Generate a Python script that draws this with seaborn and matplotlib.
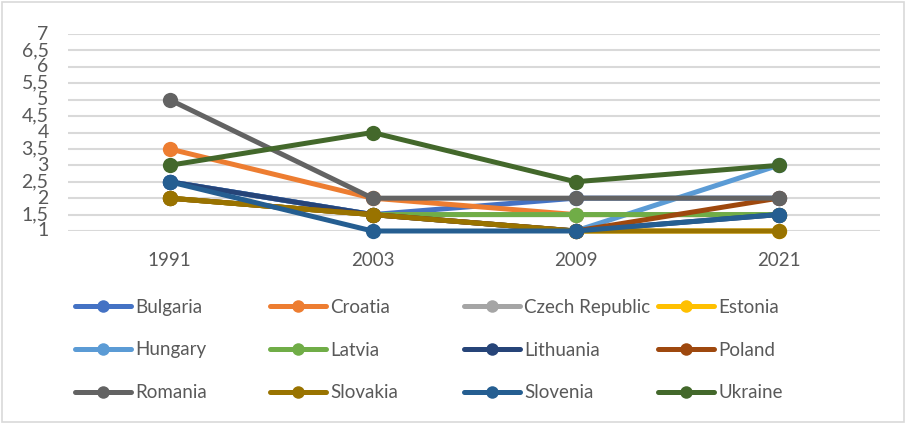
import matplotlib
matplotlib.use("Agg")
import matplotlib.pyplot as plt
import seaborn as sns
import pandas as pd
from matplotlib.lines import Line2D
from matplotlib.patches import Rectangle

years = ["1991", "2003", "2009", "2021"]
countries = ["Bulgaria", "Croatia", "Czech Republic", "Estonia", "Hungary", "Latvia",
             "Lithuania", "Poland", "Romania", "Slovakia", "Slovenia", "Ukraine"]
bulgaria = [2.5, 1.5, 2, 2]
croatia = [3.5, 2, 1.5, 1.5]
czech = [2, 1.5, 1.5, 1.5]
estonia = [2, 1.5, 1, 1]
hungary = [2.5, 1.5, 1, 3]
latvia = [2, 1.5, 1.5, 1.5]
lithuania = [2.5, 1.5, 1, 1.5]
poland = [2, 1.5, 1, 2]
romania = [5, 2, 2, 2]
slovakia = [2, 1.5, 1, 1]
slovenia = [2.5, 1, 1, 1.5]
ukraine = [3, 4, 2.5, 3]
series = [bulgaria, croatia, czech, estonia, hungary, latvia, lithuania, poland,
          romania, slovakia, slovenia, ukraine]
colors = ["#4472C4", "#ED7D31", "#A5A5A5", "#FFC000", "#5B9BD5", "#70AD47",
          "#264478", "#9E480E", "#636363", "#997300", "#255E91", "#43682B"]
yticks = [1, 1.5, 2, 2.5, 3, 3.5, 4, 4.5, 5, 5.5, 6, 6.5, 7]
ytick_labels = ["1", "1,5", "2", "2,5", "3", "3,5", "4", "4,5", "5", "5,5", "6", "6,5", "7"]

rows = []
for c, vals in zip(countries, series):
    for y, v in zip(years, vals):
        rows.append({"year": y, "country": c, "value": v})
df = pd.DataFrame(rows)

sns.set_theme(style="white")
plt.rcParams["font.family"] = ["Lato", "DejaVu Sans"]
text_color = "#595959"

fig = plt.figure(figsize=(9.06, 4.24), dpi=100)
ax = fig.add_axes([68 / 906, 1 - 231 / 424, (880 - 68) / 906, (231 - 34) / 424])

palette = dict(zip(countries, colors))
sns.lineplot(data=df, x="year", y="value", hue="country", hue_order=countries,
             palette=palette, marker="o", markersize=11, markeredgewidth=0,
             linewidth=3.6, legend=False, ax=ax, sort=False, clip_on=False, zorder=3)
for ln in ax.lines:
    ln.set_clip_on(False)

ax.set_xlim(-0.5, 3.5)
ax.set_ylim(1, 7)
ax.set_yticks(yticks)
ax.set_yticklabels(ytick_labels)
ax.set_xlabel("")
ax.set_ylabel("")
ax.yaxis.grid(True, color="#d9d9d9", linewidth=1.5)
ax.xaxis.grid(False)
ax.set_axisbelow(True)
for s in ax.spines.values():
    s.set_visible(False)
ax.tick_params(axis="y", length=0, pad=14, labelsize=14, labelcolor=text_color)
ax.tick_params(axis="x", length=0, pad=15, labelsize=13.5, labelcolor=text_color)
for lbl in ax.get_yticklabels():
    lbl.set_verticalalignment("center")

handles = [Line2D([0], [0], color=col, linewidth=3.6, marker="o", markersize=9,
                  markeredgewidth=0) for col in colors]
col_x = [75, 270, 464, 658]
for ci, x in enumerate(col_x):
    idx = [ci, ci + 4, ci + 8]
    leg = fig.legend([handles[i] for i in idx], [countries[i] for i in idx],
                     ncol=1, loc="center left",
                     bbox_to_anchor=(x / 906, 1 - 350 / 424),
                     frameon=False, fontsize=13.5,
                     handlelength=3.0, handletextpad=0.2, labelspacing=1.38,
                     borderaxespad=0, borderpad=0)
    for t in leg.get_texts():
        t.set_color(text_color)

fig.patches.append(Rectangle((2 / 906, 2 / 424), 902 / 906, 420 / 424,
                             transform=fig.transFigure, fill=False,
                             edgecolor="#d9d9d9", linewidth=1.2))

fig.savefig("out.png", dpi=100)
